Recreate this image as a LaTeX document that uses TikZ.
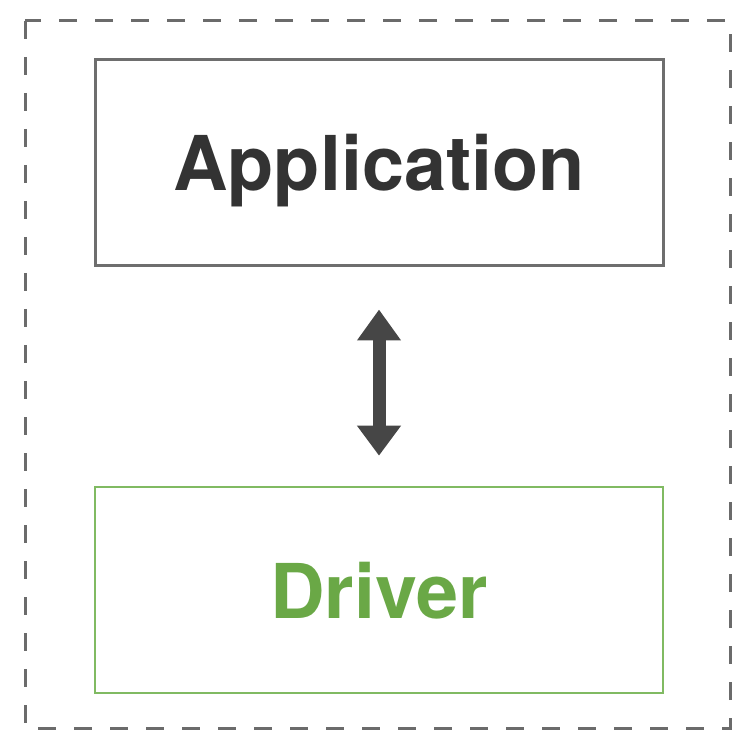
\documentclass[tikz,border=0pt]{standalone}
\usepackage{fontspec}
\setmainfont{TeX Gyre Heros}
\usetikzlibrary{arrows.meta}
\definecolor{framegray}{HTML}{6B6B6B}
\definecolor{boxgray}{HTML}{6E6E6E}
\definecolor{textgray}{HTML}{333333}
\definecolor{drvgreen}{HTML}{6AA846}
\definecolor{drvline}{HTML}{80BA62}
\definecolor{arrowgray}{HTML}{464646}
\tikzset{
  layerbox/.style={rectangle, inner sep=0pt, minimum width=284pt, minimum height=103pt,
    text height=28pt, text depth=0pt, font=\fontsize{37.8}{40}\selectfont\bfseries},
  appbox/.style={layerbox, draw=boxgray, line width=1.5pt, text=textgray},
  drvbox/.style={layerbox, draw=drvline, line width=1.3pt, text=drvgreen},
  outerframe/.style={draw=framegray, line width=1.5pt, dash pattern=on 9pt off 9pt},
  linkarrow/.style={draw=arrowgray, line width=6.5pt,
    {Triangle[width=21pt,length=15.5pt]}-{Triangle[width=21pt,length=15pt]}}
}
\begin{document}
\begin{tikzpicture}[x=0.5pt,y=-0.5pt]
  \useasboundingbox (0,0) rectangle (732,731);
  % dashed enclosure
  \draw[outerframe] (25,21) rectangle (730,728);
  % the two layers
  \node[appbox] (app) at (379,163) {Application};
  \node[drvbox] (drv) at (379,590) {Driver};
  % two-way link between them
  \draw[linkarrow, shorten <=21pt, shorten >=15pt] (app.south) -- (drv.north);
\end{tikzpicture}
\end{document}
